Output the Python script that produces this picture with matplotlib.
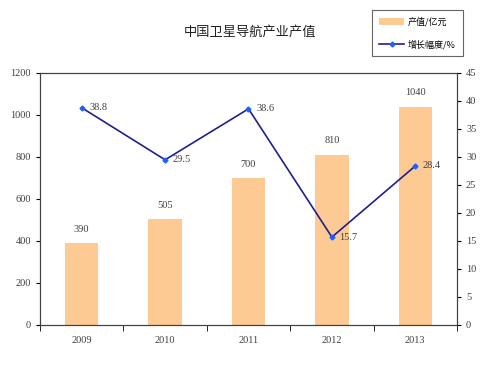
import matplotlib
matplotlib.use('Agg')
import matplotlib.pyplot as plt
import numpy as np

plt.rcParams['font.family'] = ['Noto Sans CJK SC', 'DejaVu Sans']

years = ['2009', '2010', '2011', '2012', '2013']
output_value = [390, 505, 700, 810, 1040]
growth_rate = [38.8, 29.5, 38.6, 15.7, 28.4]

num_font = 'Liberation Serif'
text_gray = '#404040'

fig = plt.figure(figsize=(4.85, 3.7), dpi=100)
ax = fig.add_axes([40 / 485, 45 / 370, 417 / 485, 252 / 370])
ax2 = ax.twinx()

x = np.arange(len(years))
bars = ax.bar(x, output_value, width=0.4, color='#FDCA94', label='产值/亿元', zorder=2)
ax.set_xlim(-0.5, len(years) - 0.5)
ax.set_ylim(0, 1200)
ax.set_yticks(range(0, 1201, 200))
ax.set_xticks(x)
ax.set_xticklabels(years, fontfamily=num_font, fontsize=7.5, color=text_gray)
ax.set_xticks(np.arange(-0.5, len(years), 1), minor=True)
ax.tick_params(axis='x', which='major', length=0, pad=8)
ax.tick_params(axis='x', which='minor', length=4, direction='out')
ax.tick_params(axis='y', length=3, direction='out', labelsize=7.5, labelcolor=text_gray)
for lbl in ax.get_yticklabels():
    lbl.set_fontfamily(num_font)

for xi, v in zip(x, output_value):
    ax.text(xi, v + 45, str(v), ha='center', va='bottom', fontsize=7.5,
            fontfamily=num_font, color=text_gray)

line, = ax2.plot(x, growth_rate, color='#1F1F8F', lw=1.2, marker='D', ms=2.5,
                 mfc='#1F5FFF', mec='#1F5FFF', label='增长幅度/%', zorder=3)
ax2.set_ylim(0, 45)
ax2.set_yticks(range(0, 46, 5))
ax2.tick_params(axis='y', length=3, direction='out', labelsize=7.5, labelcolor=text_gray)
for lbl in ax2.get_yticklabels():
    lbl.set_fontfamily(num_font)

for xi, v in zip(x, growth_rate):
    ax2.text(xi + 0.09, v, f'{v}', ha='left', va='center', fontsize=7.5,
             fontfamily=num_font, color=text_gray)

for a in (ax, ax2):
    for s in a.spines.values():
        s.set_color('#404040')
        s.set_linewidth(0.8)

fig.text(250 / 485, 1 - 32 / 370, '中国卫星导航产业产值', ha='center', va='center',
         fontsize=9.5, color='#202020')

leg = fig.legend(handles=[bars, line], loc='upper right',
                 bbox_to_anchor=(463 / 485, 1 - 10 / 370), fontsize=6.5,
                 frameon=True, fancybox=False, edgecolor='#404040',
                 handlelength=2.8, handletextpad=0.4, borderpad=0.8,
                 labelspacing=1.4, borderaxespad=0)
leg.get_frame().set_linewidth(0.8)

fig.savefig('out.png', dpi=100)
